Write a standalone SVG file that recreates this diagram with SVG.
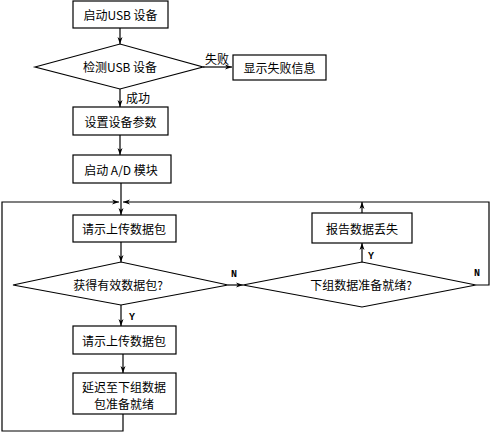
<svg xmlns="http://www.w3.org/2000/svg" width="494" height="437" viewBox="0 0 494 437">
<defs>
<marker id="ah" markerWidth="7" markerHeight="6" refX="7" refY="3" orient="auto" markerUnits="userSpaceOnUse">
<path d="M0,0.5 L7,3 L0,5.5 L2,3 Z" fill="#000"/>
</marker>
<style>
.box{fill:#fff;stroke:#000;stroke-width:1.2}
.t{font-family:"Noto Sans CJK SC","Noto Sans",sans-serif;font-size:12px;fill:#000;text-anchor:middle;dominant-baseline:central}
.l{font-family:"Liberation Mono","DejaVu Sans Mono",monospace;font-size:10px;font-weight:bold;fill:#000}
.c{fill:none;stroke:#000;stroke-width:1.2}
</style>
</defs>
<rect width="494" height="437" fill="#fff"/>
<g id="connectors">
<path class="c" d="M120,28 V44" marker-end="url(#ah)"/>
<path class="c" d="M203,67 H232" marker-end="url(#ah)"/>
<path class="c" d="M120,89 V107" marker-end="url(#ah)"/>
<path class="c" d="M120,135 V155" marker-end="url(#ah)"/>
<path class="c" d="M121,183 V215" marker-end="url(#ah)"/>
<path class="c" d="M121,242 V262" marker-end="url(#ah)"/>
<path class="c" d="M228,285 H243" marker-end="url(#ah)"/>
<path class="c" d="M121,305 V326" marker-end="url(#ah)"/>
<path class="c" d="M123,354 V373" marker-end="url(#ah)"/>
<path class="c" d="M123,414 V431 H2 V202 H119" marker-end="url(#ah)"/>
<path class="c" d="M476,285 H489 V202 H123" marker-end="url(#ah)"/>
<path class="c" d="M362,262 V243" marker-end="url(#ah)"/>
<path class="c" d="M362,213 V202" marker-end="url(#ah)"/>
<text class="t" x="217" y="58">失败</text>
<text class="t" x="138" y="97">成功</text>
<text class="l" x="231" y="277">N</text>
<text class="l" x="474" y="276">N</text>
<text class="l" x="368" y="259">Y</text>
<text class="l" x="129" y="320">Y</text>
</g>
<g id="n1"><rect class="box" x="73" y="1" width="95" height="27"/><text class="t" x="120.5" y="14.5">启动USB 设备</text></g>
<g id="n2"><polygon class="box" points="35,67 120,44 203,67 120,89"/><text class="t" x="120" y="66">检测USB 设备</text></g>
<g id="n3"><rect class="box" x="233" y="55" width="93" height="25"/><text class="t" x="279.5" y="67.5">显示失败信息</text></g>
<g id="n4"><rect class="box" x="73" y="107" width="95" height="28"/><text class="t" x="120.5" y="121">设置设备参数</text></g>
<g id="n5"><rect class="box" x="73" y="155" width="98" height="28"/><text class="t" x="121" y="169">启动 A/D 模块</text></g>
<g id="n6"><rect class="box" x="73" y="215" width="103" height="27"/><text class="t" x="124" y="228.5">请示上传数据包</text></g>
<g id="n7"><polygon class="box" points="13,285 121,262 228,285 121,305"/><text class="t" x="118" y="284">获得有效数据包?</text></g>
<g id="n8"><polygon class="box" points="243,285 362,262 476,285 362,307"/><text class="t" x="361" y="284">下组数据准备就绪?</text></g>
<g id="n9"><rect class="box" x="312" y="213" width="100" height="30"/><text class="t" x="362" y="228">报告数据丢失</text></g>
<g id="n10"><rect class="box" x="73" y="326" width="103" height="28"/><text class="t" x="124" y="340">请示上传数据包</text></g>
<g id="n11"><rect class="box" x="73" y="373" width="103" height="41"/><text class="t" x="124" y="386">延迟至下组数据</text><text class="t" x="124" y="403">包准备就绪</text></g>
</svg>
